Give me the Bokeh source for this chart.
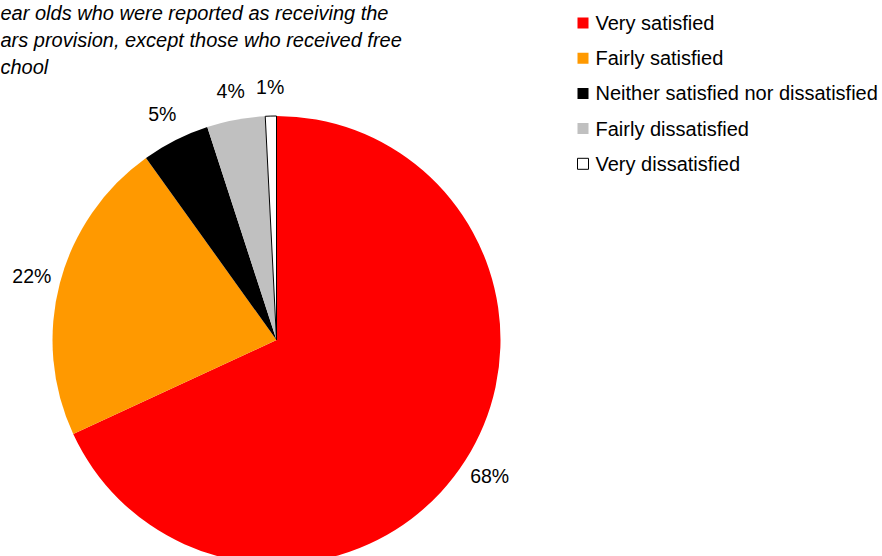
import math
from bokeh.plotting import figure
from bokeh.models import ColumnDataSource, Range1d
from bokeh.core.properties import value
from bokeh.embed import file_html
from bokeh.resources import INLINE

# ---- data ----
categories = ["Very satisfied", "Fairly satisfied", "Neither satisfied nor dissatisfied",
              "Fairly dissatisfied", "Very dissatisfied"]
shares = [68.1, 22.0, 4.9, 4.2, 0.8]
pct_labels = ["68%", "22%", "5%", "4%", "1%"]
colors = ["#FF0000", "#FF9900", "#000000", "#C0C0C0", "#FFFFFF"]
outline_alpha = [0, 0, 0, 0, 1]
title_lines = ["ear olds who were reported as receiving the",
               "ars provision, except those who received free",
               "chool"]

FONT = "Liberation Sans"
W, H = 882, 556

def wx(x):  # picture x -> data x
    return x

def wy(y):  # picture y -> data y
    return H - y

p = figure(width=W, height=H, x_range=Range1d(0, W), y_range=Range1d(0, H),
           output_backend="svg", toolbar_location=None, min_border=0,
           x_axis_location=None, y_axis_location=None)
p.xgrid.visible = False
p.ygrid.visible = False
p.outline_line_color = None
p.background_fill_color = "white"
p.border_fill_color = "white"

# ---- pie ----
cx, cy, R = wx(276), wy(339.5), 224
total = sum(shares)
starts, ends, mids = [], [], []
cum = 0.0
for v in shares:
    f0 = cum / total
    cum += v
    f1 = cum / total
    starts.append(math.pi / 2 - 2 * math.pi * f0)
    ends.append(math.pi / 2 - 2 * math.pi * f1)
    mids.append(math.pi / 2 - 2 * math.pi * (f0 + f1) / 2)

src = ColumnDataSource(dict(x=[cx] * len(shares), y=[cy] * len(shares),
                            start=starts, end=ends, color=colors, la=outline_alpha))
p.wedge(x="x", y="y", radius=R, start_angle="start", end_angle="end", direction="clock",
        fill_color="color", line_color="black", line_alpha="la", line_width=1, source=src)

LR = 253
lab = ColumnDataSource(dict(x=[cx + LR * math.cos(a) for a in mids],
                            y=[cy + LR * math.sin(a) for a in mids],
                            t=pct_labels))
p.text(x="x", y="y", text="t", source=lab, text_align="center", text_baseline="middle",
       text_font=value(FONT), text_font_size="19.5px", text_color="black")

# ---- legend ----
leg_y = [wy(22.5 + 35.2 * i) for i in range(len(categories))]
leg = ColumnDataSource(dict(x=[wx(582.5)] * len(categories), tx=[wx(595)] * len(categories),
                            y=leg_y, color=colors, la=outline_alpha, t=categories))
p.scatter(x="x", y="y", marker="square", size=11, fill_color="color",
          line_color="black", line_alpha="la", line_width=1, source=leg)
p.text(x="tx", y="y", text="t", source=leg, text_align="left", text_baseline="middle",
       text_font=value(FONT), text_font_size="20px", text_color="black")

# ---- title (cut at the left edge as in the reference) ----
tsrc = ColumnDataSource(dict(x=[0] * len(title_lines),
                             y=[wy(12.8 + 26.9 * i) for i in range(len(title_lines))],
                             t=title_lines))
p.text(x="x", y="y", text="t", source=tsrc, text_align="left", text_baseline="alphabetic",
       text_font=value(FONT), text_font_style="italic", text_font_size="20px",
       text_color="black")

open("out.html", "w").write(file_html(p, INLINE))
